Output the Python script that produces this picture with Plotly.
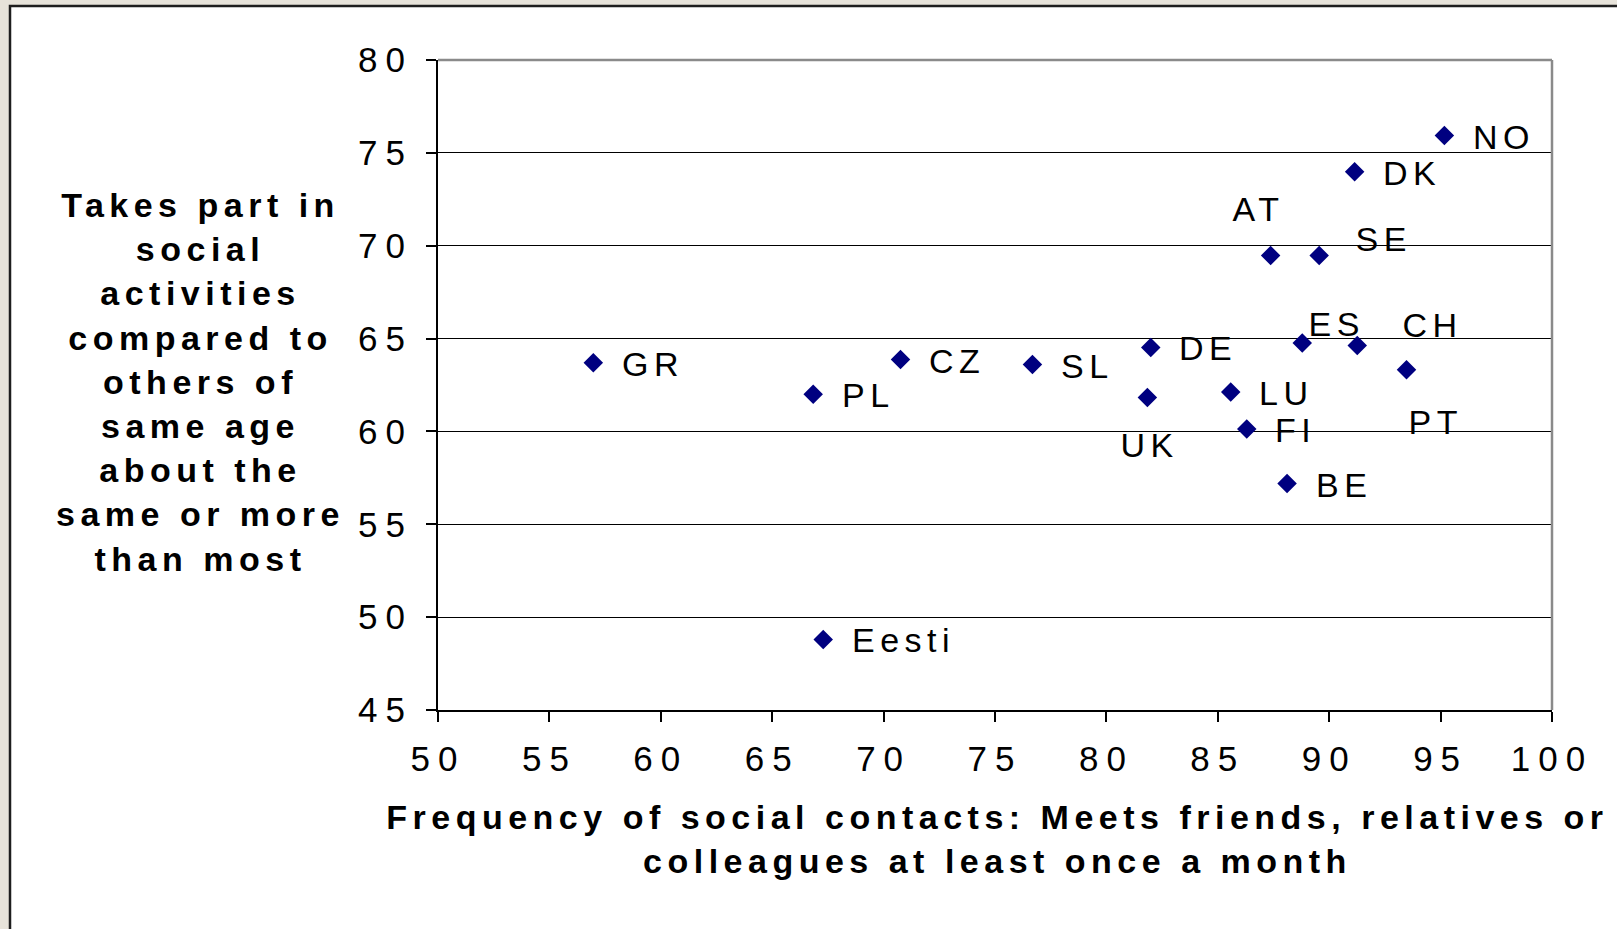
import plotly.graph_objects as go

# Country codes and their two indicators (%)
countries = ["GR", "PL", "Eesti", "CZ", "SL", "UK", "DE", "LU", "FI",
             "AT", "BE", "ES", "SE", "CH", "DK", "PT", "NO"]
contact_freq = [56.97, 66.84, 67.29, 70.76, 76.68, 81.84, 81.99, 85.58, 86.30,
                87.37, 88.11, 88.79, 89.55, 91.26, 91.14, 93.47, 95.17]
social_activity = [63.7, 62.0, 48.8, 63.87, 63.6, 61.83, 64.52, 62.12, 60.13,
                   69.47, 57.19, 64.76, 69.47, 64.63, 73.98, 63.32, 75.93]

x_ticks = [50, 55, 60, 65, 70, 75, 80, 85, 90, 95, 100]
y_ticks = [45, 50, 55, 60, 65, 70, 75, 80]

x_title = "Frequency of social contacts: Meets friends, relatives or<br>colleagues at least once a month"
y_title = ("Takes part in<br>social<br>activities<br>compared to<br>others of<br>"
           "same age<br>about the<br>same or more<br>than most")

# Label placement (pixel shifts, anchor, alignment); default is to the right of the marker
RIGHT = dict(xshift=26.5, yshift=-1.0, xanchor="left", align="left")
label_style = {
    "AT": dict(xshift=-12.5, yshift=46.4, xanchor="center", align="center"),
    "SE": dict(xshift=64.0, yshift=16.5, xanchor="center", align="center"),
    "ES": dict(xshift=34.7, yshift=19.5, xanchor="center", align="center"),
    "CH": dict(xshift=75.2, yshift=20.7, xanchor="center", align="center"),
    "PT": dict(xshift=28.7, yshift=-52.5, xanchor="center", align="center"),
    "UK": dict(xshift=2.7, yshift=-48.0, xanchor="center", align="center"),
}

FONT = "Liberation Sans, Arial, sans-serif"
W, H = 1617, 929
ML, MR, MT, MB = 438, 65, 60, 219
PW, PH = W - ML - MR, H - MT - MB


def px_to_paper_x(px):
    return (px - ML) / PW


def px_to_paper_y(py):
    return (H - MB - py) / PH


fig = go.Figure()
fig.add_trace(go.Scatter(
    x=contact_freq, y=social_activity, mode="markers",
    marker=dict(symbol="diamond", size=15, color="#000080", line=dict(width=0)),
    hoverinfo="skip", showlegend=False,
))

annotations = []
for name, xv, yv in zip(countries, contact_freq, social_activity):
    st = label_style.get(name, RIGHT)
    annotations.append(dict(
        x=xv, y=yv, xref="x", yref="y", text=name, showarrow=False,
        xanchor=st["xanchor"], yanchor="middle", align=st["align"],
        xshift=st["xshift"], yshift=st["yshift"],
        font=dict(family=FONT, size=34, color="#000000"),
    ))

# axis titles
annotations.append(dict(
    x=px_to_paper_x(995 + 2.75), y=px_to_paper_y(838.5), xref="paper", yref="paper",
    text=x_title, showarrow=False, xanchor="center", yanchor="middle", align="center",
    font=dict(family=FONT, size=34, color="#000000", weight="bold"),
))
annotations.append(dict(
    x=px_to_paper_x(198 + 2.75), y=px_to_paper_y(382), xref="paper", yref="paper",
    text=y_title, showarrow=False, xanchor="center", yanchor="middle", align="center",
    font=dict(family=FONT, size=34, color="#000000", weight="bold"),
))

shapes = [
    # white chart sheet with dark left/top edge over the beige surround
    dict(type="rect", xref="paper", yref="paper", layer="below",
         x0=px_to_paper_x(10), x1=px_to_paper_x(W + 30),
         y0=px_to_paper_y(H + 30), y1=px_to_paper_y(6),
         fillcolor="#ffffff", line=dict(color="#1e1e1e", width=2.5)),
    # grey plot-area border on top and right
    dict(type="line", xref="paper", yref="paper", layer="above",
         x0=0, x1=1, y0=1, y1=1, line=dict(color="#8a8a8a", width=2.5)),
    dict(type="line", xref="paper", yref="paper", layer="above",
         x0=1, x1=1, y0=0, y1=1, line=dict(color="#8a8a8a", width=2.5)),
]

fig.update_layout(
    width=W, height=H,
    margin=dict(l=ML, r=MR, t=MT, b=MB, pad=0),
    paper_bgcolor="#e7e3da", plot_bgcolor="#ffffff",
    font=dict(family=FONT, size=35, color="#000000"),
    annotations=annotations, shapes=shapes, showlegend=False,
    xaxis=dict(
        range=[50, 100], tickvals=x_ticks, ticktext=[str(v) for v in x_ticks],
        showgrid=False, zeroline=False,
        showline=True, linecolor="#000000", linewidth=2,
        ticks="outside", ticklen=10, tickwidth=1.5, tickcolor="#000000",
        tickfont=dict(family=FONT, size=35, color="#000000"),
        ticklabelstandoff=7,
    ),
    yaxis=dict(
        range=[45, 80], tickvals=y_ticks, ticktext=[str(v) for v in y_ticks],
        showgrid=True, gridcolor="#000000", gridwidth=1, zeroline=False,
        showline=True, linecolor="#000000", linewidth=2,
        ticks="outside", ticklen=10, tickwidth=1.5, tickcolor="#000000",
        tickfont=dict(family=FONT, size=35, color="#000000"),
        ticklabelstandoff=6,
    ),
)

# widen the text tracking of tick labels and annotations
post = """
var gd = document.getElementById('{plot_id}');
function spread() {
  gd.querySelectorAll('.xtick text, .ytick text').forEach(function (t) { t.style.letterSpacing = '8px'; });
  gd.querySelectorAll('.annotation-text').forEach(function (t) { t.style.letterSpacing = '5.5px'; });
}
spread();
if (gd.on) { gd.on('plotly_afterplot', spread); }
"""

fig.write_html("out.html", post_script=post, config={"displayModeBar": False})
